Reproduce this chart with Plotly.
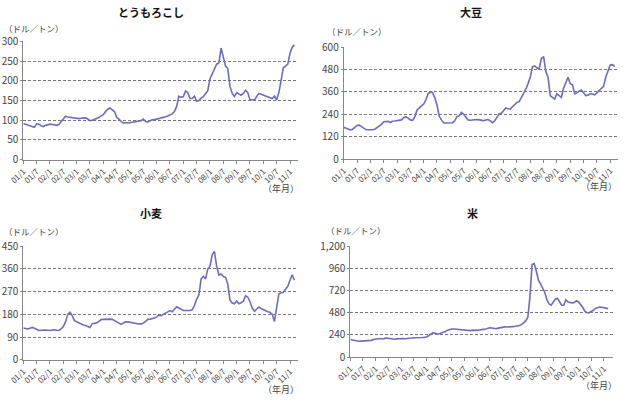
import plotly.graph_objects as go

# months since 2001/1
months = list(range(123))
tick_vals = list(range(0, 121, 6))
tick_text = [f"{y:02d}/{m}" for y in range(1, 12) for m in (1, 7)][:21]

corn = [92, 90, 88, 86, 84, 82, 91, 90, 86, 84, 87, 89, 90, 89, 88, 87, 89, 96, 104, 110,
        108, 107, 106, 105, 104, 104, 105, 106, 106, 103, 99, 100, 102, 104, 107, 111, 114, 122, 128, 131,
        127, 122, 108, 102, 97, 93, 93, 94, 94, 95, 96, 97, 97, 99, 103, 97, 96, 99, 101, 102,
        104, 104, 106, 107, 109, 111, 114, 116, 122, 135, 161, 158, 160, 174, 170, 155, 155, 161, 148, 150,
        156, 160, 167, 175, 205, 218, 230, 242, 245, 283, 260, 237, 231, 185, 168, 160, 170, 166, 163, 168,
        176, 170, 152, 152, 151, 160, 168, 166, 164, 162, 159, 157, 155, 161, 152, 170, 205, 233, 237, 242,
        270, 285, 291]

soy = [170, 166, 160, 156, 160, 168, 180, 182, 174, 162, 158, 157, 156, 157, 160, 168, 175, 186, 200, 203,
       202, 196, 203, 204, 205, 205, 210, 222, 227, 220, 210, 208, 225, 262, 276, 285, 295, 318, 350, 360,
       356, 330, 290, 230, 210, 195, 193, 193, 193, 195, 205, 228, 232, 250, 240, 225, 210, 208, 210, 212,
       212, 210, 208, 206, 210, 212, 205, 195, 205, 228, 243, 246, 258, 274, 270, 268, 281, 295, 304, 308,
       330, 348, 375, 405, 440, 495, 500, 490, 482, 540, 550, 470, 440, 340, 330, 322, 350, 340, 331, 380,
       412, 439, 405, 399, 350, 355, 365, 371, 356, 340, 343, 350, 349, 345, 355, 367, 375, 390, 440, 470,
       505, 507, 496]

wheat = [126, 124, 122, 125, 128, 125, 122, 116, 117, 119, 118, 117, 116, 118, 119, 117, 116, 122, 132, 150,
         180, 188, 175, 155, 150, 146, 140, 138, 136, 131, 128, 143, 144, 146, 152, 159, 160, 161, 159, 161,
         160, 155, 150, 142, 140, 146, 150, 150, 148, 146, 143, 143, 142, 142, 145, 152, 160, 161, 162, 165,
         170, 177, 175, 180, 185, 190, 195, 190, 200, 210, 205, 200, 195, 195, 195, 195, 198, 215, 240, 258,
         320, 331, 320, 360, 371, 417, 430, 370, 336, 340, 330, 327, 300, 236, 225, 222, 233, 222, 226, 232,
         254, 248, 230, 205, 192, 200, 209, 203, 198, 193, 190, 188, 180, 152, 200, 262, 266, 267, 280, 291,
         315, 337, 315]

rice = [190, 185, 180, 170, 170, 172, 173, 175, 176, 177, 180, 190, 196, 198, 198, 197, 199, 205, 200, 196,
        192, 192, 196, 200, 204, 200, 198, 198, 200, 205, 208, 207, 205, 206, 210, 212, 216, 230, 250, 262,
        258, 248, 252, 260, 262, 275, 290, 298, 303, 302, 300, 299, 290, 288, 292, 290, 288, 285, 290, 287,
        288, 292, 299, 299, 303, 310, 316, 314, 310, 306, 312, 318, 324, 326, 324, 324, 325, 328, 333, 335,
        340, 350, 370, 390, 430, 650, 1000, 1010, 930, 830, 790, 740, 700, 620, 575, 560, 600, 625, 635, 600,
        560, 560, 620, 595, 587, 585, 590, 608, 595, 570, 535, 495, 480, 478, 490, 505, 525, 535, 541, 538,
        533, 530, 523]

titles = ["とうもろこし", "大豆", "小麦", "米"]
series = [corn, soy, wheat, rice]
y_max = [300, 600, 450, 1200]
y_step = [50, 120, 90, 240]
unit_label = "（ドル／トン）"
x_label = "（年月）"

W, H = 627, 400
# plot boxes in pixels: left, right, top, bottom
boxes = [(23.3, 298, 41.3, 159.7), (343.7, 618, 47.3, 159), (23.3, 298, 246.3, 359.7), (350.3, 613, 246, 357)]
x_ranges = [123.6, 123.5, 123.6, 124.3]
title_pos = [(151, 12), (471, 12), (151, 213), (472, 212.5)]
unit_pos = [(2, 28), (325, 31), (2, 231), (324, 230)]
xl_pos = [(301, 189), (619, 186), (301, 389), (619, 385)]

FONT = "Noto Sans CJK JP"
LINE = "#6c6cc0"
fig = go.Figure()
for i in range(4):
    n = "" if i == 0 else str(i + 1)
    l, r, t, b = boxes[i]
    fig.add_trace(go.Scatter(x=months, y=series[i], mode="lines",
                             line=dict(color=LINE, width=1.6),
                             xaxis="x" + n, yaxis="y" + n, showlegend=False))
    fig.layout["xaxis" + n] = dict(
        domain=[l / W, r / W], anchor="y" + n, range=[0, x_ranges[i]], automargin=False,
        tickvals=tick_vals, ticktext=tick_text, tickangle=-45,
        ticks="outside", ticklen=3, tickcolor="#888", showgrid=False,
        showline=True, linecolor="#888", linewidth=1, zeroline=False,
        tickfont=dict(family=FONT, size=8, color="#444"))
    fig.layout["yaxis" + n] = dict(
        domain=[1 - b / H, 1 - t / H], anchor="x" + n, range=[0, y_max[i]], automargin=False,
        tickvals=list(range(0, y_max[i] + 1, y_step[i])), tickformat=",",
        showgrid=True, gridcolor="#777", griddash="3px,2px", gridwidth=1,
        showline=True, linecolor="#888", linewidth=1, zeroline=False,
        ticks="outside", ticklen=2, tickcolor="#888",
        tickfont=dict(family=FONT, size=10, color="#444"))
    fig.add_annotation(text=f"<b>{titles[i]}</b>", x=title_pos[i][0] / W, y=1 - title_pos[i][1] / H,
                       xref="paper", yref="paper", showarrow=False, xanchor="center", yanchor="middle",
                       font=dict(family=FONT, size=11, color="#111"))
    fig.add_annotation(text=unit_label, x=unit_pos[i][0] / W, y=1 - unit_pos[i][1] / H,
                       xref="paper", yref="paper", showarrow=False, xanchor="left", yanchor="middle",
                       font=dict(family=FONT, size=8.5, color="#444"))
    fig.add_annotation(text=x_label, x=xl_pos[i][0] / W, y=1 - xl_pos[i][1] / H,
                       xref="paper", yref="paper", showarrow=False, xanchor="right", yanchor="middle",
                       font=dict(family=FONT, size=9, color="#444"))

fig.update_layout(width=W, height=H, margin=dict(l=0, r=0, t=0, b=0),
                  paper_bgcolor="white", plot_bgcolor="white")
fig.write_html("out.html")
